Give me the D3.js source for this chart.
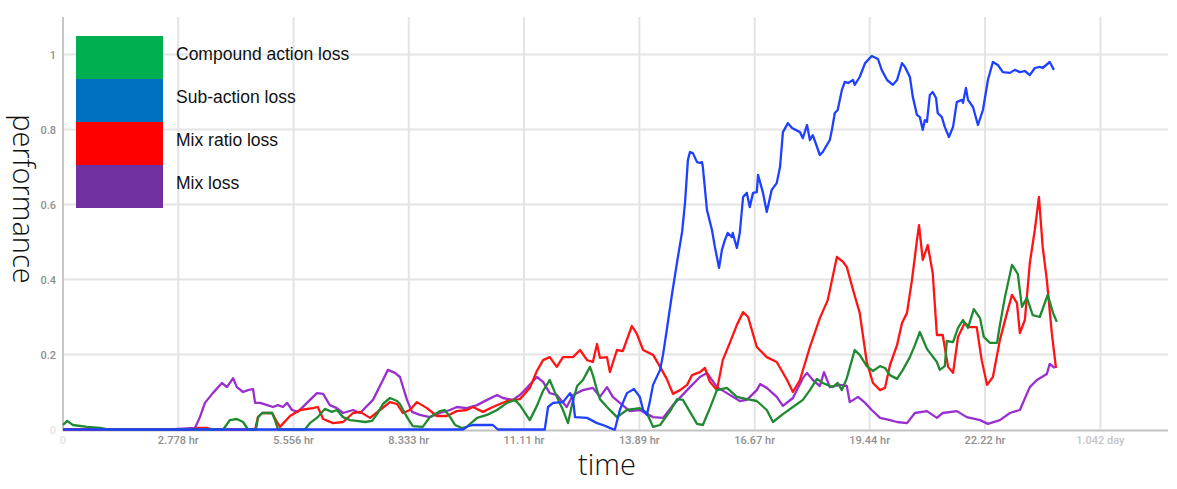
<!DOCTYPE html>
<html>
<head>
<meta charset="utf-8">
<script src="https://cdn.jsdelivr.net/npm/d3@7"></script>
<style>
  body { margin: 0; background: #fff; }
  .tickLabel { font-family: Roboto, "Noto Sans", sans-serif; font-size: 11px; font-weight: 500; fill: #8f8f8f; }
  .axisTitle { font-family: "Open Sans", "Noto Sans", sans-serif; font-weight: 300; font-size: 29px; fill: #111; }
  .legendText { font-family: "Liberation Sans", Arial, sans-serif; font-size: 17.5px; fill: #111; }
</style>
</head>
<body>
<div id="chart"></div>
<script>
// Data (time in hours, performance 0..1)
var xTickHours = [0, 2.778, 5.556, 8.333, 11.11, 13.89, 16.67, 19.44, 22.22, 25];
var xTickLabels = ["0", "2.778 hr", "5.556 hr", "8.333 hr", "11.11 hr", "13.89 hr", "16.67 hr", "19.44 hr", "22.22 hr", "1.042 day"];
var yTickValues = [0, 0.2, 0.4, 0.6, 0.8, 1];
var yTickLabels = ["0", "0.2", "0.4", "0.6", "0.8", "1"];

var legendNames = ["Compound action loss", "Sub-action loss", "Mix ratio loss", "Mix loss"];
var legendColors = ["#00b050", "#0070c0", "#ff0000", "#7030a0"];

var compoundHours = [0, 0.10, 0.24, 0.58, 0.89, 1.08, 3.86, 4.02, 4.19, 4.34, 4.46, 4.65, 4.70, 4.80, 5.04, 5.11, 5.18, 5.83, 5.95, 6.14, 6.31, 6.48, 6.60, 6.75, 6.92, 7.08, 7.28, 7.45, 7.57, 7.71, 7.88, 8.05, 8.12, 8.29, 8.43, 8.67, 8.84, 9.08, 9.20, 9.33, 9.45, 9.61, 9.73, 9.98, 10.22, 10.46, 10.70, 10.89, 11.01, 11.25, 11.42, 11.57, 11.73, 11.90, 12.05, 12.17, 12.27, 12.39, 12.53, 12.70, 12.77, 12.87, 12.94, 13.11, 13.35, 13.59, 13.90, 14.07, 14.22, 14.39, 14.63, 14.80, 14.94, 15.11, 15.28, 15.42, 15.59, 15.76, 16.00, 16.24, 16.48, 16.72, 16.96, 17.11, 17.35, 17.59, 17.83, 18.00, 18.17, 18.31, 18.55, 18.67, 18.77, 18.89, 19.08, 19.20, 19.37, 19.52, 19.69, 19.81, 19.93, 20.10, 20.24, 20.41, 20.53, 20.65, 20.82, 21.06, 21.13, 21.25, 21.30, 21.45, 21.57, 21.69, 21.81, 21.95, 22.10, 22.19, 22.34, 22.51, 22.58, 22.70, 22.87, 23.01, 23.11, 23.23, 23.37, 23.54, 23.73, 23.86, 23.95];
var compoundLoss = [0.012, 0.023, 0.012, 0.007, 0.004, 0, 0, 0.025, 0.028, 0.020, 0, 0, 0.033, 0.044, 0.044, 0.025, 0, 0, 0.017, 0.033, 0.055, 0.047, 0.052, 0.033, 0.025, 0.023, 0.020, 0.023, 0.041, 0.068, 0.084, 0.076, 0.068, 0.033, 0.009, 0.007, 0.033, 0.049, 0.052, 0.033, 0.012, 0.004, 0.007, 0.031, 0.039, 0.052, 0.071, 0.079, 0.065, 0.025, 0.063, 0.103, 0.132, 0.087, 0.052, 0.017, 0.068, 0.116, 0.132, 0.167, 0.145, 0.105, 0.081, 0.060, 0.033, 0.052, 0.057, 0.044, 0.007, 0.012, 0.049, 0.081, 0.079, 0.047, 0.015, 0.012, 0.057, 0.105, 0.111, 0.087, 0.081, 0.076, 0.052, 0.020, 0.041, 0.060, 0.079, 0.105, 0.135, 0.124, 0.113, 0.124, 0.105, 0.137, 0.212, 0.199, 0.169, 0.156, 0.169, 0.164, 0.145, 0.135, 0.159, 0.193, 0.225, 0.260, 0.215, 0.180, 0.159, 0.169, 0.236, 0.233, 0.271, 0.292, 0.271, 0.321, 0.297, 0.247, 0.231, 0.231, 0.279, 0.353, 0.439, 0.415, 0.327, 0.351, 0.305, 0.300, 0.359, 0.311, 0.287];

var subHours = [0, 9.64, 9.76, 9.88, 10.36, 10.48, 11.61, 11.69, 11.81, 12.05, 12.22, 12.29, 12.34, 12.63, 12.87, 13.01, 13.25, 13.30, 13.42, 13.59, 13.76, 13.90, 13.98, 14.07, 14.14, 14.22, 14.39, 14.46, 14.55, 14.67, 14.80, 14.92, 14.99, 15.06, 15.11, 15.18, 15.28, 15.35, 15.40, 15.42, 15.52, 15.64, 15.71, 15.81, 15.88, 15.95, 16.02, 16.12, 16.14, 16.24, 16.31, 16.39, 16.48, 16.55, 16.63, 16.72, 16.75, 16.87, 16.96, 17.08, 17.20, 17.28, 17.35, 17.47, 17.57, 17.76, 17.83, 17.93, 18.00, 18.07, 18.24, 18.31, 18.48, 18.53, 18.60, 18.67, 18.77, 18.84, 18.92, 19.04, 19.08, 19.20, 19.33, 19.49, 19.64, 19.73, 19.86, 20.00, 20.10, 20.22, 20.29, 20.41, 20.48, 20.58, 20.65, 20.72, 20.77, 20.82, 20.89, 20.96, 21.04, 21.08, 21.18, 21.25, 21.35, 21.45, 21.54, 21.66, 21.69, 21.76, 21.81, 21.93, 22.05, 22.17, 22.29, 22.41, 22.53, 22.65, 22.82, 22.94, 23.06, 23.18, 23.30, 23.42, 23.54, 23.61, 23.78, 23.88];
var subLoss = [0, 0, 0.009, 0.012, 0.012, 0, 0, 0.060, 0.071, 0.073, 0.097, 0.081, 0.033, 0.031, 0.017, 0.012, 0.001, 0, 0.052, 0.097, 0.108, 0.087, 0.052, 0.039, 0.073, 0.119, 0.159, 0.199, 0.265, 0.356, 0.447, 0.527, 0.604, 0.719, 0.740, 0.737, 0.713, 0.711, 0.713, 0.700, 0.585, 0.532, 0.487, 0.431, 0.479, 0.505, 0.524, 0.513, 0.524, 0.484, 0.524, 0.620, 0.631, 0.593, 0.631, 0.633, 0.679, 0.631, 0.580, 0.639, 0.657, 0.700, 0.793, 0.817, 0.804, 0.793, 0.777, 0.812, 0.772, 0.785, 0.732, 0.740, 0.772, 0.799, 0.844, 0.852, 0.905, 0.927, 0.924, 0.932, 0.919, 0.940, 0.977, 0.996, 0.988, 0.959, 0.932, 0.919, 0.932, 0.977, 0.967, 0.940, 0.887, 0.839, 0.833, 0.799, 0.825, 0.820, 0.892, 0.900, 0.884, 0.844, 0.833, 0.807, 0.780, 0.807, 0.873, 0.879, 0.871, 0.911, 0.879, 0.860, 0.812, 0.852, 0.932, 0.980, 0.972, 0.953, 0.951, 0.959, 0.953, 0.956, 0.945, 0.964, 0.967, 0.964, 0.980, 0.959];

var ratioHours = [0, 3.13, 3.23, 3.49, 3.59, 4.63, 4.70, 4.80, 5.04, 5.13, 5.23, 5.47, 5.71, 6.02, 6.14, 6.27, 6.51, 6.75, 6.99, 7.16, 7.40, 7.64, 7.88, 8.05, 8.19, 8.36, 8.53, 8.77, 9.01, 9.25, 9.49, 9.73, 9.88, 10.12, 10.36, 10.70, 11.01, 11.25, 11.42, 11.57, 11.73, 11.90, 12.05, 12.29, 12.46, 12.63, 12.77, 12.87, 12.94, 13.11, 13.18, 13.35, 13.49, 13.71, 13.83, 13.98, 14.22, 14.39, 14.55, 14.70, 14.87, 15.04, 15.16, 15.35, 15.47, 15.59, 15.76, 15.90, 16.07, 16.24, 16.39, 16.51, 16.72, 16.96, 17.20, 17.45, 17.59, 17.76, 18.00, 18.24, 18.43, 18.65, 18.80, 18.89, 19.04, 19.20, 19.37, 19.52, 19.69, 19.81, 19.93, 20.10, 20.22, 20.34, 20.46, 20.58, 20.63, 20.72, 20.84, 20.96, 21.06, 21.20, 21.33, 21.45, 21.57, 21.73, 21.86, 22.02, 22.14, 22.27, 22.41, 22.58, 22.75, 22.87, 22.99, 23.06, 23.18, 23.30, 23.42, 23.52, 23.61, 23.71, 23.83, 23.93];
var ratioLoss = [0, 0, 0.004, 0.004, 0, 0, 0.033, 0.044, 0.044, 0.025, 0.007, 0.036, 0.052, 0.057, 0.060, 0.028, 0.017, 0.020, 0.044, 0.047, 0.031, 0.052, 0.073, 0.068, 0.044, 0.052, 0.073, 0.057, 0.036, 0.036, 0.049, 0.052, 0.060, 0.047, 0.060, 0.076, 0.081, 0.111, 0.156, 0.185, 0.193, 0.167, 0.193, 0.193, 0.212, 0.185, 0.180, 0.228, 0.191, 0.193, 0.153, 0.212, 0.209, 0.276, 0.255, 0.212, 0.199, 0.167, 0.135, 0.095, 0.105, 0.119, 0.145, 0.153, 0.164, 0.127, 0.105, 0.185, 0.231, 0.279, 0.313, 0.300, 0.220, 0.193, 0.180, 0.132, 0.100, 0.132, 0.220, 0.297, 0.345, 0.460, 0.447, 0.433, 0.372, 0.311, 0.180, 0.124, 0.105, 0.111, 0.172, 0.225, 0.284, 0.311, 0.399, 0.505, 0.545, 0.452, 0.492, 0.417, 0.252, 0.252, 0.167, 0.151, 0.247, 0.284, 0.273, 0.273, 0.185, 0.119, 0.140, 0.239, 0.311, 0.359, 0.337, 0.257, 0.292, 0.444, 0.532, 0.620, 0.487, 0.399, 0.257, 0.164];

var mixHours = [0, 2.58, 3.18, 3.30, 3.42, 3.61, 3.83, 3.95, 4.10, 4.19, 4.34, 4.46, 4.58, 4.63, 4.75, 4.92, 5.06, 5.18, 5.30, 5.40, 5.52, 5.66, 5.88, 6.12, 6.27, 6.43, 6.60, 6.75, 6.99, 7.16, 7.47, 7.71, 7.83, 8.00, 8.12, 8.29, 8.41, 8.60, 8.84, 9.08, 9.33, 9.49, 9.73, 9.98, 10.22, 10.46, 10.60, 10.84, 11.01, 11.18, 11.42, 11.57, 11.73, 11.90, 12.14, 12.29, 12.53, 12.77, 12.94, 13.11, 13.25, 13.42, 13.66, 13.90, 14.22, 14.46, 14.70, 15.04, 15.35, 15.52, 15.76, 16.00, 16.31, 16.48, 16.72, 16.80, 16.96, 17.20, 17.35, 17.59, 17.83, 17.93, 18.07, 18.24, 18.34, 18.48, 18.72, 18.89, 18.96, 19.16, 19.33, 19.49, 19.69, 19.93, 20.10, 20.34, 20.53, 20.82, 21.06, 21.20, 21.54, 21.78, 22.10, 22.29, 22.58, 22.82, 23.06, 23.30, 23.47, 23.71, 23.78, 23.90];
var mixLoss = [0, 0, 0.004, 0.033, 0.071, 0.097, 0.124, 0.113, 0.137, 0.113, 0.100, 0.105, 0.108, 0.071, 0.071, 0.065, 0.060, 0.065, 0.060, 0.071, 0.052, 0.047, 0.071, 0.097, 0.095, 0.065, 0.057, 0.044, 0.052, 0.044, 0.079, 0.132, 0.159, 0.151, 0.140, 0.079, 0.047, 0.039, 0.033, 0.044, 0.052, 0.060, 0.057, 0.065, 0.079, 0.092, 0.084, 0.079, 0.092, 0.111, 0.140, 0.127, 0.097, 0.092, 0.060, 0.092, 0.105, 0.111, 0.087, 0.113, 0.087, 0.071, 0.049, 0.052, 0.033, 0.031, 0.065, 0.105, 0.140, 0.151, 0.113, 0.097, 0.076, 0.079, 0.105, 0.121, 0.111, 0.087, 0.063, 0.084, 0.137, 0.151, 0.132, 0.116, 0.153, 0.113, 0.119, 0.116, 0.073, 0.087, 0.071, 0.052, 0.031, 0.025, 0.020, 0.017, 0.044, 0.049, 0.031, 0.044, 0.049, 0.033, 0.025, 0.015, 0.025, 0.044, 0.052, 0.113, 0.132, 0.148, 0.175, 0.164];

// Chart setup
var svgWidth = 1177;
var svgHeight = 489;

var plot = { left: 63, right: 1168, top: 17, bottom: 429.5 };

var svg = d3.select("#chart")
  .append("svg")
  .attr("width", svgWidth)
  .attr("height", svgHeight);

// Scales
var xScale = d3.scaleLinear()
  .domain([0, 26.63])
  .range([plot.left, plot.right]);

var yScale = d3.scaleLinear()
  .domain([0, 1.1])
  .range([plot.bottom, plot.top]);

// Gridlines
svg.append("g")
  .selectAll("line")
  .data(xTickHours)
  .enter()
  .append("line")
  .attr("x1", d => xScale(d))
  .attr("x2", d => xScale(d))
  .attr("y1", plot.top)
  .attr("y2", plot.bottom)
  .attr("stroke", "#e4e4e4")
  .attr("stroke-width", 2);

svg.append("g")
  .selectAll("line")
  .data(yTickValues.slice(1))
  .enter()
  .append("line")
  .attr("x1", plot.left)
  .attr("x2", plot.right)
  .attr("y1", d => yScale(d))
  .attr("y2", d => yScale(d))
  .attr("stroke", "#e4e4e4")
  .attr("stroke-width", 2);

// Axis lines
svg.append("line")
  .attr("x1", plot.left).attr("x2", plot.left)
  .attr("y1", plot.top).attr("y2", plot.bottom + 1)
  .attr("stroke", "#c6c6c6")
  .attr("stroke-width", 2);

svg.append("line")
  .attr("x1", plot.left).attr("x2", plot.right)
  .attr("y1", plot.bottom + 1).attr("y2", plot.bottom + 1)
  .attr("stroke", "#c2c2c2")
  .attr("stroke-width", 2);

// Tick labels
svg.append("g")
  .selectAll("text")
  .data(xTickHours)
  .enter()
  .append("text")
  .attr("class", "tickLabel")
  .attr("x", d => xScale(d))
  .attr("y", 444)
  .attr("text-anchor", "middle")
  .style("fill", (d, i) => i === 0 ? "#e2e2e2" : (i === xTickHours.length - 1 ? "#c4c4c4" : null))
  .text((d, i) => xTickLabels[i]);

svg.append("g")
  .selectAll("text")
  .data(yTickValues)
  .enter()
  .append("text")
  .attr("class", "tickLabel")
  .attr("x", 56)
  .attr("y", d => yScale(d) + 4)
  .attr("text-anchor", "end")
  .style("fill", d => d === 0 ? "#e2e2e2" : null)
  .text((d, i) => yTickLabels[i]);

// Lines
var series = [
  { hours: mixHours, values: mixLoss, color: "#9a2fd0" },
  { hours: ratioHours, values: ratioLoss, color: "#ff1414" },
  { hours: compoundHours, values: compoundLoss, color: "#1f8a30" },
  { hours: subHours, values: subLoss, color: "#1f40ff" }
];

var line = d3.line()
  .x(d => xScale(d[0]))
  .y(d => yScale(d[1]));

svg.append("g")
  .selectAll("path")
  .data(series)
  .enter()
  .append("path")
  .attr("d", s => line(d3.zip(s.hours, s.values)))
  .attr("fill", "none")
  .attr("stroke", s => s.color)
  .attr("stroke-width", 2.3)
  .attr("stroke-linejoin", "round");

// Legend
var legend = svg.append("g")
  .attr("transform", "translate(76, 36)");

legend.selectAll("rect")
  .data(legendNames)
  .enter()
  .append("rect")
  .attr("x", 0)
  .attr("y", (d, i) => i * 43)
  .attr("width", 87)
  .attr("height", 43)
  .attr("fill", (d, i) => legendColors[i]);

legend.selectAll("text")
  .data(legendNames)
  .enter()
  .append("text")
  .attr("class", "legendText")
  .attr("x", 100)
  .attr("y", (d, i) => i * 43 + 23.5)
  .text(d => d);

// Axis titles
svg.append("text")
  .attr("class", "axisTitle")
  .attr("transform", "translate(13, 199) rotate(90)")
  .attr("text-anchor", "middle")
  .text("performance");

svg.append("text")
  .attr("class", "axisTitle")
  .attr("x", 607)
  .attr("y", 475)
  .attr("text-anchor", "middle")
  .text("time");
</script>
</body>
</html>
